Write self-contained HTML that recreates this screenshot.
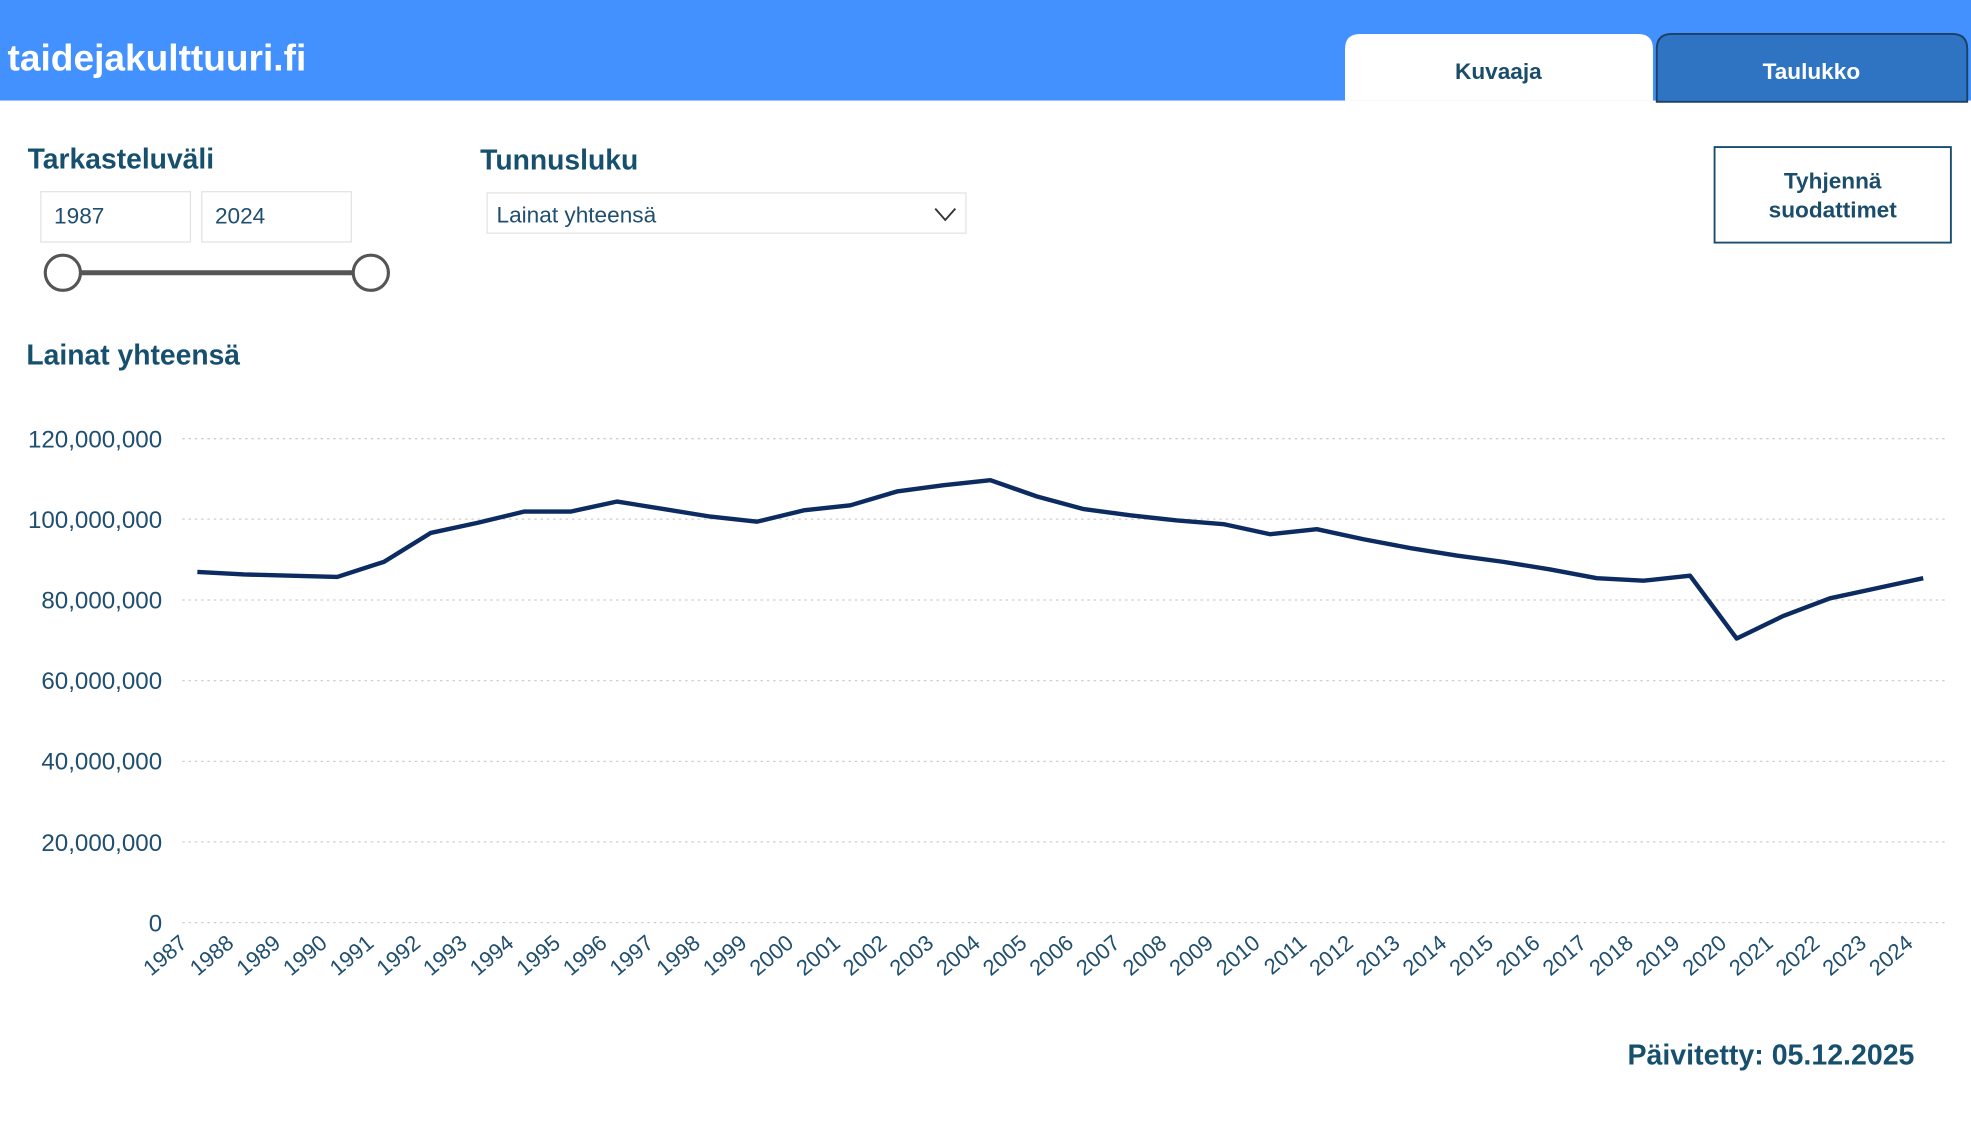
<!DOCTYPE html>
<html><head><meta charset="utf-8"><style>
html,body{margin:0;padding:0;background:#fff;overflow:hidden}
svg{display:block}
text{font-family:"Liberation Sans",sans-serif}
</style></head><body>
<svg width="1971" height="1125" viewBox="0 0 1568 895" preserveAspectRatio="none" xmlns="http://www.w3.org/2000/svg">
<rect x="0" y="0" width="1568" height="80" fill="#4391FF"/>
<text x="6" y="56" font-size="29.5" font-weight="bold" fill="#fff">taidejakulttuuri.fi</text>
<path d="M1070 80 V39 Q1070 27 1082 27 H1303 Q1315 27 1315 39 V80 Z" fill="#fff"/>
<text x="1192" y="63" font-size="18" font-weight="bold" fill="#1b4d6b" text-anchor="middle">Kuvaaja</text>
<path d="M1318 81 V39 Q1318 27 1330 27 H1553 Q1565 27 1565 39 V81 Z" fill="#2E74C2" stroke="#1d3f66" stroke-width="1.5"/>
<text x="1441" y="63" font-size="18" font-weight="bold" fill="#fff" text-anchor="middle">Taulukko</text>

<text x="22" y="134" font-size="22.5" font-weight="bold" fill="#17506e">Tarkasteluväli</text>
<rect x="32.5" y="152.5" width="119" height="40" fill="#fff" stroke="#e3e3e3"/>
<rect x="160.5" y="152.5" width="119" height="40" fill="#fff" stroke="#e3e3e3"/>
<text x="43" y="178" font-size="18" fill="#1f4e6e">1987</text>
<text x="171" y="178" font-size="18" fill="#1f4e6e">2024</text>
<line x1="50" y1="217" x2="295" y2="217" stroke="#555" stroke-width="4"/>
<circle cx="50" cy="217" r="14" fill="#fff" stroke="#555" stroke-width="2.5"/>
<circle cx="295" cy="217" r="14" fill="#fff" stroke="#555" stroke-width="2.5"/>

<text x="382" y="135" font-size="22.5" font-weight="bold" fill="#17506e">Tunnusluku</text>
<rect x="387.5" y="153.5" width="381" height="32" fill="#fff" stroke="#e3e3e3"/>
<text x="395" y="177" font-size="18" fill="#1f4e6e">Lainat yhteensä</text>
<polyline points="744,166 752,175 760,166" fill="none" stroke="#333" stroke-width="1.5"/>

<rect x="1364" y="117" width="188" height="76" fill="#fff" stroke="#1b4d6b" stroke-width="1.5"/>
<text x="1458" y="150" font-size="18" font-weight="bold" fill="#1b4d6b" text-anchor="middle">Tyhjennä</text>
<text x="1458" y="173" font-size="18" font-weight="bold" fill="#1b4d6b" text-anchor="middle">suodattimet</text>

<text x="21" y="290" font-size="22.5" font-weight="bold" fill="#17506e">Lainat yhteensä</text>

<g stroke="#cfcfcf" stroke-width="1" stroke-dasharray="2,3">
<line x1="145" y1="349" x2="1548" y2="349"/>
<line x1="145" y1="413" x2="1548" y2="413"/>
<line x1="145" y1="477.3" x2="1548" y2="477.3"/>
<line x1="145" y1="541.5" x2="1548" y2="541.5"/>
<line x1="145" y1="605.7" x2="1548" y2="605.7"/>
<line x1="145" y1="669.8" x2="1548" y2="669.8"/>
<line x1="145" y1="734" x2="1548" y2="734"/>
</g>
<g font-size="19.2" fill="#1f4e6e" text-anchor="end">
<text x="129" y="356">120,000,000</text>
<text x="129" y="420">100,000,000</text>
<text x="129" y="484">80,000,000</text>
<text x="129" y="548">60,000,000</text>
<text x="129" y="612">40,000,000</text>
<text x="129" y="677">20,000,000</text>
<text x="129" y="741">0</text>
</g>
<polyline fill="none" stroke="#0c2c61" stroke-width="3.5" stroke-linejoin="round" points="157,455 194.1,457 231.2,458 268.3,459 305.4,447 342.6,424 379.7,416 416.8,407 453.9,407 491,399 528.1,405 565.2,411 602.3,415 639.4,406 676.5,402 713.6,391 750.8,386 787.9,382 825,395 862.1,405 899.2,410 936.3,414 973.4,417 1010.5,425 1047.6,421 1084.7,429 1121.8,436 1158.9,442 1196.1,447 1233.2,453 1270.3,460 1307.4,462 1344.5,458 1381.6,508 1418.7,490 1455.8,476 1492.9,468 1530,460"/>
<g font-size="17.5" fill="#1f4e6e" text-anchor="end">
<text transform="translate(150,752) rotate(-40)">1987</text>
<text transform="translate(187.1,752) rotate(-40)">1988</text>
<text transform="translate(224.2,752) rotate(-40)">1989</text>
<text transform="translate(261.3,752) rotate(-40)">1990</text>
<text transform="translate(298.4,752) rotate(-40)">1991</text>
<text transform="translate(335.6,752) rotate(-40)">1992</text>
<text transform="translate(372.7,752) rotate(-40)">1993</text>
<text transform="translate(409.8,752) rotate(-40)">1994</text>
<text transform="translate(446.9,752) rotate(-40)">1995</text>
<text transform="translate(484,752) rotate(-40)">1996</text>
<text transform="translate(521.1,752) rotate(-40)">1997</text>
<text transform="translate(558.2,752) rotate(-40)">1998</text>
<text transform="translate(595.3,752) rotate(-40)">1999</text>
<text transform="translate(632.4,752) rotate(-40)">2000</text>
<text transform="translate(669.5,752) rotate(-40)">2001</text>
<text transform="translate(706.6,752) rotate(-40)">2002</text>
<text transform="translate(743.8,752) rotate(-40)">2003</text>
<text transform="translate(780.9,752) rotate(-40)">2004</text>
<text transform="translate(818,752) rotate(-40)">2005</text>
<text transform="translate(855.1,752) rotate(-40)">2006</text>
<text transform="translate(892.2,752) rotate(-40)">2007</text>
<text transform="translate(929.3,752) rotate(-40)">2008</text>
<text transform="translate(966.4,752) rotate(-40)">2009</text>
<text transform="translate(1003.5,752) rotate(-40)">2010</text>
<text transform="translate(1040.6,752) rotate(-40)">2011</text>
<text transform="translate(1077.7,752) rotate(-40)">2012</text>
<text transform="translate(1114.8,752) rotate(-40)">2013</text>
<text transform="translate(1151.9,752) rotate(-40)">2014</text>
<text transform="translate(1189.1,752) rotate(-40)">2015</text>
<text transform="translate(1226.2,752) rotate(-40)">2016</text>
<text transform="translate(1263.3,752) rotate(-40)">2017</text>
<text transform="translate(1300.4,752) rotate(-40)">2018</text>
<text transform="translate(1337.5,752) rotate(-40)">2019</text>
<text transform="translate(1374.6,752) rotate(-40)">2020</text>
<text transform="translate(1411.7,752) rotate(-40)">2021</text>
<text transform="translate(1448.8,752) rotate(-40)">2022</text>
<text transform="translate(1485.9,752) rotate(-40)">2023</text>
<text transform="translate(1523,752) rotate(-40)">2024</text>
</g>
<text x="1523" y="847" font-size="22.7" font-weight="bold" fill="#17506e" text-anchor="end">Päivitetty: 05.12.2025</text>
</svg>
</body></html>
